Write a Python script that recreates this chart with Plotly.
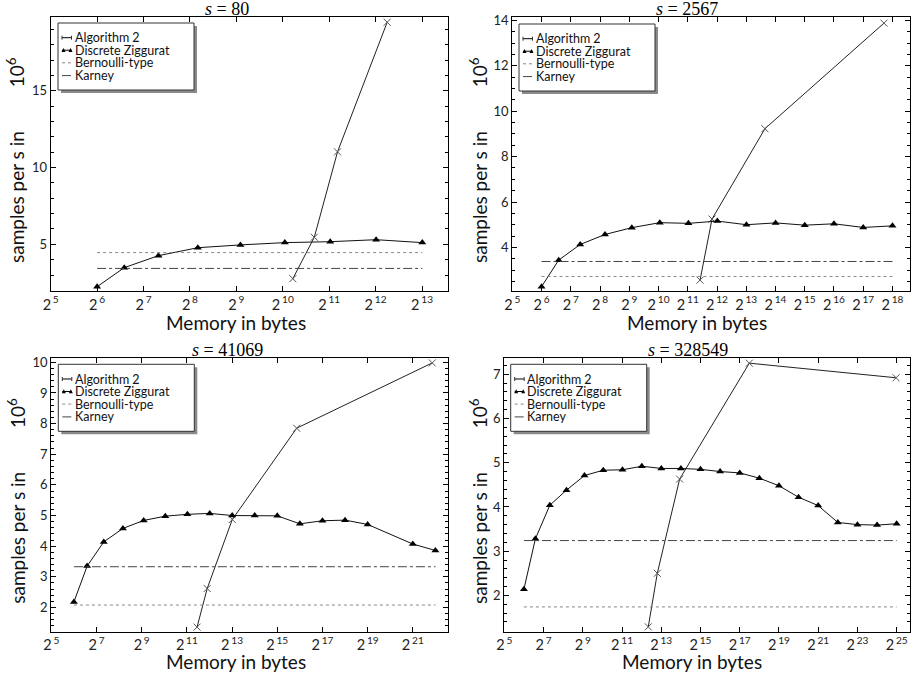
import math
import plotly.graph_objects as go

W, H = 911, 675

# ---------------- data ----------------
titles = ["<i>s</i> = 80", "<i>s</i> = 2567", "<i>s</i> = 41069", "<i>s</i> = 328549"]
series_names = ["Algorithm 2", "Discrete Ziggurat", "Bernoulli-type", "Karney"]

# panel 1 (s = 80)
p1_zig_mem = [64, 96, 160, 288, 544, 1056, 2080, 4128, 8224]
p1_zig_val = [2.24, 3.48, 4.26, 4.78, 4.96, 5.11, 5.17, 5.30, 5.11]
p1_alg_mem = [1190, 1640, 2320, 4870]
p1_alg_val = [2.76, 5.46, 11.02, 19.46]
p1_bern, p1_karney = 4.46, 3.43

# panel 2 (s = 2567)
p2_zig_mem = [64, 96, 160, 288, 544, 1056, 2080, 4128, 8224, 16416, 32800, 65568, 131104, 262176]
p2_zig_val = [2.27, 3.44, 4.13, 4.57, 4.87, 5.09, 5.06, 5.16, 5.00, 5.08, 4.98, 5.04, 4.88, 4.95]
p2_alg_mem = [2740, 3640, 12760, 214400]
p2_alg_val = [2.56, 5.25, 9.23, 13.88]
p2_bern, p2_karney = 2.72, 3.38

# panel 3 (s = 41069)
p3_zig_mem = [64, 96, 160, 288, 544, 1056, 2080, 4128, 8224, 16416, 32800, 65568, 131104,
              262176, 524320, 2097184, 4194336]
p3_zig_val = [2.18, 3.35, 4.14, 4.58, 4.84, 4.98, 5.04, 5.07, 5.00, 5.00, 4.99, 4.73, 4.83,
              4.85, 4.71, 4.07, 3.86]
p3_alg_mem = [2800, 3820, 8250, 59500, 3806000]
p3_alg_val = [1.36, 2.62, 4.87, 7.85, 9.98]
p3_bern, p3_karney = 2.08, 3.33

# panel 4 (s = 328549)
p4_zig_mem = [64, 96, 160, 288, 544, 1056, 2080, 4128, 8224, 16416, 32800, 65568, 131104,
              262176, 524320, 1048608, 2097184, 4194336, 8388640, 16777248, 33554464]
p4_zig_val = [2.14, 3.28, 4.04, 4.38, 4.71, 4.83, 4.84, 4.92, 4.87, 4.87, 4.85, 4.80, 4.77,
              4.65, 4.48, 4.22, 4.03, 3.65, 3.60, 3.59, 3.62]
p4_alg_mem = [5180, 7130, 15700, 184000, 32860000]
p4_alg_val = [1.29, 2.50, 4.63, 7.25, 6.92]
p4_bern, p4_karney = 1.74, 3.24

# tick exponents (x axis, powers of two) per panel
p1_xexp = [5, 6, 7, 8, 9, 10, 11, 12, 13]
p2_xexp = [5, 6, 7, 8, 9, 10, 11, 12, 13, 14, 15, 16, 17, 18]
p3_xexp = [5, 7, 9, 11, 13, 15, 17, 19, 21]
p4_xexp = [5, 7, 9, 11, 13, 15, 17, 19, 21, 23, 25]

panels = [
    dict(zm=p1_zig_mem, zv=p1_zig_val, am=p1_alg_mem, av=p1_alg_val, b=p1_bern, k=p1_karney,
         xexp=p1_xexp, xr=(5, 13.56), yr=(1.96, 19.8), dt=5, mdt=1,
         box=(50.7, 448, 17, 291), leg=(58, 23)),
    dict(zm=p2_zig_mem, zv=p2_zig_val, am=p2_alg_mem, av=p2_alg_val, b=p2_bern, k=p2_karney,
         xexp=p2_xexp, xr=(5, 18.6), yr=(2.08, 14.15), dt=2, mdt=0.5,
         box=(512.3, 910, 17, 291), leg=(519, 24)),
    dict(zm=p3_zig_mem, zv=p3_zig_val, am=p3_alg_mem, av=p3_alg_val, b=p3_bern, k=p3_karney,
         xexp=p3_xexp, xr=(5, 22.57), yr=(1.21, 10.15), dt=1, mdt=0.2,
         box=(51.3, 448.3, 357.7, 631.7), leg=(58.3, 364.3)),
    dict(zm=p4_zig_mem, zv=p4_zig_val, am=p4_alg_mem, av=p4_alg_val, b=p4_bern, k=p4_karney,
         xexp=p4_xexp, xr=(5, 25.68), yr=(1.18, 7.36), dt=1, mdt=0.2,
         box=(504.3, 910, 358.3, 631.7), leg=(510.7, 364.3)),
]
title_pos = [(227, 9), (687, 9), (227, 350), (688, 350)]
xlabel_pos = [(235.5, 322), (697, 322), (235.7, 661), (692, 661)]
ylabel_x = [15, 478, 17, 478]

SANS = "Lato, 'Open Sans', sans-serif"
SERIF = "'Liberation Serif', 'DejaVu Serif', serif"
L2 = math.log10(2)
LEG_W, LEG_H = 136, 67


def px(x):
    return x / W


def py(y):
    return 1 - y / H


fig = go.Figure()
annotations = []
shapes = []

styles = [
    dict(color="#222", width=1, dash="solid"),
    dict(color="#111", width=1, dash="solid"),
    dict(color="#888", width=1, dash="dot"),
    dict(color="#444", width=1, dash="dashdot"),
]

for i, p in enumerate(panels):
    n = i + 1
    xa = "x" if n == 1 else f"x{n}"
    ya = "y" if n == 1 else f"y{n}"
    xline = [p["zm"][0], p["zm"][-1]]

    fig.add_trace(go.Scatter(
        x=p["am"], y=p["av"], mode="lines+markers", name=series_names[0],
        line=styles[0],
        marker=dict(symbol="x-thin", size=7, line=dict(width=1, color="#555")),
        xaxis=xa, yaxis=ya, showlegend=False))
    fig.add_trace(go.Scatter(
        x=p["zm"], y=p["zv"], mode="lines+markers", name=series_names[1],
        line=styles[1],
        marker=dict(symbol="triangle-up", size=7, color="#000"),
        xaxis=xa, yaxis=ya, showlegend=False))
    fig.add_trace(go.Scatter(
        x=xline, y=[p["b"], p["b"]], mode="lines", name=series_names[2],
        line=styles[2], xaxis=xa, yaxis=ya, showlegend=False))
    fig.add_trace(go.Scatter(
        x=xline, y=[p["k"], p["k"]], mode="lines", name=series_names[3],
        line=styles[3], xaxis=xa, yaxis=ya, showlegend=False))

    l, r, t, b = p["box"]
    xkey = "xaxis" if n == 1 else f"xaxis{n}"
    ykey = "yaxis" if n == 1 else f"yaxis{n}"
    fig.update_layout(**{
        xkey: dict(
            type="log", domain=[px(l), px(r)], anchor=ya, automargin=False,
            range=[p["xr"][0] * L2, p["xr"][1] * L2],
            tickmode="array", tickvals=[2 ** e for e in p["xexp"]],
            ticktext=[f"2\u2009<sup>{e}</sup>" for e in p["xexp"]],
            ticks="inside", ticklen=5, tickcolor="#000",
            showline=True, linecolor="#000", linewidth=1.2, mirror="allticks",
            showgrid=False, zeroline=False,
            tickfont=dict(family=SANS, size=14.5, color="#222"),
        ),
        ykey: dict(
            domain=[py(b), py(t)], anchor=xa, automargin=False,
            range=list(p["yr"]), dtick=p["dt"], tick0=0,
            ticks="inside", ticklen=5, tickcolor="#000",
            minor=dict(dtick=p["mdt"], ticks="inside", ticklen=3, tickcolor="#000", showgrid=False),
            showline=True, linecolor="#000", linewidth=1.2, mirror="allticks",
            showgrid=False, zeroline=False,
            tickfont=dict(family=SANS, size=13, color="#222"),
        ),
    })

    # ---- legend box (shadow + frame) ----
    lx, ly = p["leg"]
    shapes.append(dict(type="rect", xref="paper", yref="paper",
                       x0=px(lx + 3), x1=px(lx + LEG_W + 3), y0=py(ly + LEG_H + 3), y1=py(ly + 3),
                       fillcolor="#8a8a8a", line=dict(width=0), layer="above"))
    shapes.append(dict(type="rect", xref="paper", yref="paper",
                       x0=px(lx), x1=px(lx + LEG_W), y0=py(ly + LEG_H), y1=py(ly),
                       fillcolor="#fff", line=dict(width=1, color="#333"), layer="above"))
    row_off = [14.7, 27.2, 39.8, 52.6]
    for j in range(4):
        ry = ly + row_off[j]
        x0s, x1s = lx + 4, lx + 13.5
        shapes.append(dict(type="line", xref="paper", yref="paper",
                           x0=px(x0s), x1=px(x1s), y0=py(ry), y1=py(ry),
                           line=dict(color="#000" if j < 2 else styles[j]["color"], width=1,
                                     dash="solid" if j < 2 else ("dot" if j == 2 else "dash")),
                           layer="above"))
        if j == 0:
            for dx in (0, 9.5):
                shapes.append(dict(type="line", xref="paper", yref="paper",
                                   x0=px(x0s + dx), x1=px(x0s + dx), y0=py(ry - 2), y1=py(ry + 2),
                                   line=dict(color="#333", width=1), layer="above"))
        if j == 1:
            for dx in (1.5, 8.5):
                cx = x0s + dx
                path = (f"M {px(cx - 2)},{py(ry + 1.8)} L {px(cx + 2)},{py(ry + 1.8)} "
                        f"L {px(cx)},{py(ry - 2.2)} Z")
                shapes.append(dict(type="path", xref="paper", yref="paper", path=path,
                                   fillcolor="#000", line=dict(width=0), layer="above"))
        annotations.append(dict(text=series_names[j], x=px(lx + 14.5), y=py(ry),
                                xref="paper", yref="paper", showarrow=False,
                                xanchor="left", yanchor="middle",
                                font=dict(family=SANS, size=12.5, color="#111")))

    annotations.append(dict(text=titles[i], x=px(title_pos[i][0]), y=py(title_pos[i][1]),
                            xref="paper", yref="paper", showarrow=False,
                            xanchor="center", yanchor="middle",
                            font=dict(family=SERIF, size=18, color="#000")))
    annotations.append(dict(text="Memory in bytes", x=px(xlabel_pos[i][0]), y=py(xlabel_pos[i][1]),
                            xref="paper", yref="paper", showarrow=False,
                            xanchor="center", yanchor="middle",
                            font=dict(family=SANS, size=19, color="#111")))
    annotations.append(dict(text="samples per s in" + "\u00a0" * 9 + "10<sup>6</sup>",
                            x=px(ylabel_x[i]), y=py((t + b) / 2 + 6),
                            xref="paper", yref="paper", showarrow=False, textangle=-90,
                            xanchor="center", yanchor="middle",
                            font=dict(family=SANS, size=19, color="#111")))

fig.update_layout(
    width=W, height=H, margin=dict(l=0, r=0, t=0, b=0, autoexpand=False),
    paper_bgcolor="#fff", plot_bgcolor="#fff", showlegend=False,
    annotations=annotations, shapes=shapes,
)

fig.write_html(
    "out.html",
    config={"displayModeBar": False},
    post_script="document.body.style.margin='0';document.body.style.overflow='hidden';",
)
